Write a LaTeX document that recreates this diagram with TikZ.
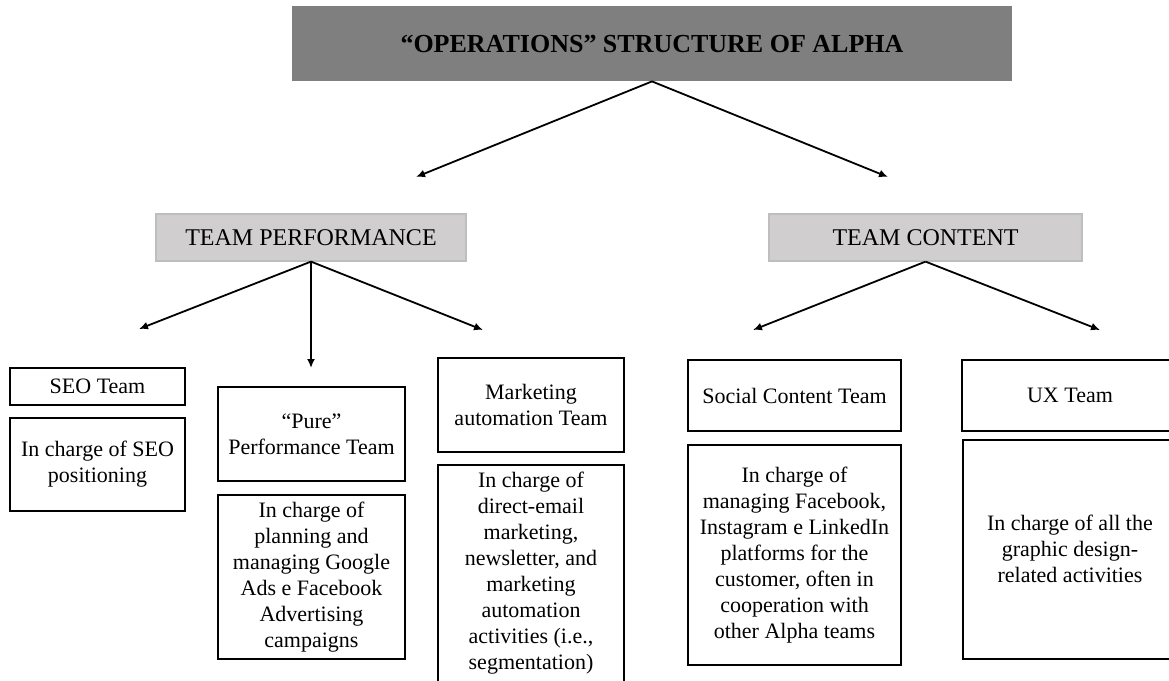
\documentclass[tikz,border=0pt]{standalone}
\usepackage{fontspec}
\setmainfont{Liberation Serif}
\usepackage{xcolor}
\usetikzlibrary{arrows.meta,positioning}
\definecolor{headgray}{RGB}{127,127,127}
\definecolor{teamgray}{RGB}{208,206,206}
\definecolor{teamline}{RGB}{190,190,190}

\begin{document}
\begin{tikzpicture}[
  x=0.5pt,y=-0.5pt,
  box/.style={rectangle,draw,line width=0.9pt,align=center,inner sep=2pt,font=\fontsize{11}{13}\selectfont},
  head/.style={rectangle,fill=headgray,minimum width=360pt,minimum height=37.5pt,font=\fontsize{13}{15}\selectfont\bfseries},
  team/.style={rectangle,fill=teamgray,draw=teamline,line width=0.6pt,minimum height=23.5pt,font=\fontsize{12}{14}\selectfont},
  a/.style={-{Latex[length=4.5pt,width=4pt]},line width=0.9pt}
]
\useasboundingbox (0,0) rectangle (1169,681);

\node[head] (ops) at (652,43.5) {“OPERATIONS” STRUCTURE OF ALPHA};

\node[team,minimum width=155pt] (perf) at (311,237.5) {TEAM PERFORMANCE};
\node[team,minimum width=156.5pt] (cont) at (925.5,237.5) {TEAM CONTENT};

% performance side
\node[box,minimum width=87.5pt,minimum height=18.5pt] (seo) at (97.5,386.5) {SEO Team};
\node[box,minimum width=87.5pt,minimum height=46.5pt,below=5.5pt of seo] (seodesc) {In charge of SEO\\positioning};
\node[box,minimum width=93.5pt,minimum height=47pt] (pure) at (311.5,434) {“Pure”\\Performance Team};
\node[box,minimum width=93.5pt,minimum height=82pt,below=6pt of pure] (puredesc) {In charge of\\planning and\\managing Google\\Ads e Facebook\\Advertising\\campaigns};
\node[box,minimum width=93pt,minimum height=47pt] (mkt) at (531,405) {Marketing\\automation Team};
\node[box,minimum width=93pt,minimum height=108.5pt,below=5.5pt of mkt] (mktdesc) {In charge of\\direct-email\\marketing,\\newsletter, and\\marketing\\automation\\activities (i.e.,\\segmentation)};

% content side
\node[box,minimum width=106.5pt,minimum height=35.5pt] (social) at (794.5,395.5) {Social Content Team};
\node[box,minimum width=106.5pt,minimum height=110pt,below=6pt of social] (socialdesc) {In charge of\\managing Facebook,\\Instagram e LinkedIn\\platforms for the\\customer, often in\\cooperation with\\other Alpha teams};
\node[box,minimum width=108pt,minimum height=35.5pt] (ux) at (1070,395.5) {UX Team};
\node[box,minimum width=107pt,minimum height=109.5pt,below=3.5pt of ux] (uxdesc) {In charge of all the\\graphic design-\\related activities};

% arrow ends
\coordinate (opsL) at (416,177);
\coordinate (opsR) at (888,177);
\coordinate (perfL) at (139,329);
\coordinate (perfM) at (311,368);
\coordinate (perfR) at (483,330);
\coordinate (contL) at (753,330);
\coordinate (contR) at (1100,330);

\draw[a] (ops.south)--(opsL);
\draw[a] (ops.south)--(opsR);
\draw[a] (perf.south)--(perfL);
\draw[a] (perf.south)--(perfM);
\draw[a] (perf.south)--(perfR);
\draw[a] (cont.south)--(contL);
\draw[a] (cont.south)--(contR);
\end{tikzpicture}
\end{document}
